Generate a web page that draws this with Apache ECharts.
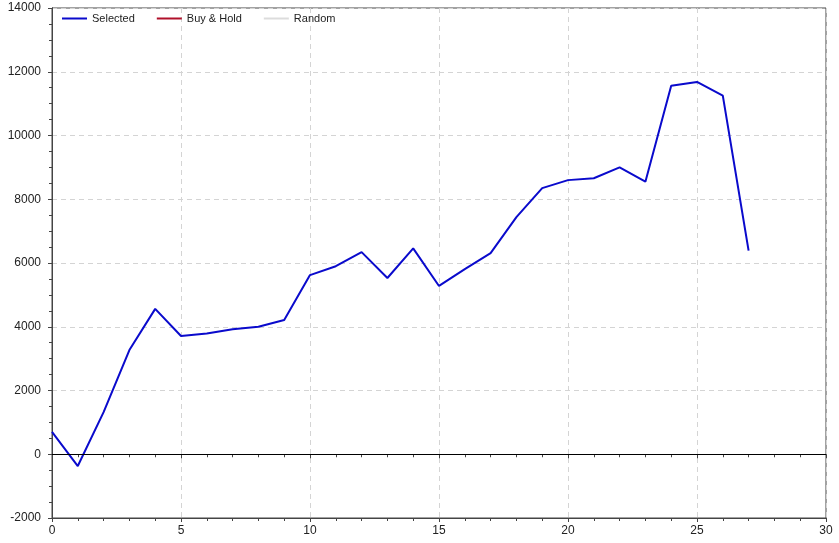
<!DOCTYPE html>
<html>
<head>
<meta charset="utf-8">
<script src="https://cdn.jsdelivr.net/npm/echarts@6/dist/echarts.min.js"></script>
<style>
  html, body { margin: 0; padding: 0; background: #fff; }
  #chart { width: 839px; height: 543px; }
</style>
</head>
<body>
<div id="chart"></div>
<script>
const periods = [0, 1, 2, 3, 4, 5, 6, 7, 8, 9, 10, 11, 12, 13, 14, 15, 16, 17, 18, 19, 20, 21, 22, 23, 24, 25, 26, 27]
const selected = [700, -370, 1320, 3270, 4560, 3710, 3790, 3920, 4000, 4210, 5620, 5900, 6340, 5530, 6460, 5280, 5810, 6310, 7440, 8350, 8600, 8660, 9000, 8550, 11560, 11680, 11250, 6390]
const buyHold = []
const random = []

const chart = echarts.init(document.getElementById('chart'))

const font = { fontFamily: 'Liberation Sans, Arial, sans-serif', fontSize: 11, color: '#222' }
const axisFont = { ...font, fontSize: 12 }
const gridLine = { show: true, lineStyle: { color: '#d4d4d4', type: [5, 4], width: 1 } }
const axisColor = '#444'

chart.setOption({
  animation: false,
  textStyle: font,
  grid: { left: 52, right: 13, top: 8, bottom: 25, show: true, borderColor: axisColor, borderWidth: 1 },
  legend: {
    left: 57, top: 8,
    icon: 'rect', itemWidth: 25, itemHeight: 2, itemGap: 22,
    textStyle: font,
    data: ['Selected', 'Buy & Hold', 'Random'],
  },
  xAxis: [
    {
      type: 'value', min: 0, max: 30, interval: 5,
      axisLine: { onZero: false, lineStyle: { color: axisColor } },
      axisTick: { length: 4, lineStyle: { color: axisColor } },
      minorTick: { show: true, splitNumber: 5, length: 3, lineStyle: { color: axisColor } },
      axisLabel: { ...axisFont, margin: 7 },
      splitLine: gridLine,
    },
    {
      type: 'value', min: 0, max: 30, interval: 5, position: 'top',
      axisLine: { show: true, lineStyle: { color: axisColor } },
      axisTick: { inside: true, length: 4, lineStyle: { color: axisColor } },
      minorTick: { show: true, splitNumber: 5, length: 3, lineStyle: { color: axisColor } },
      axisLabel: { show: false },
      splitLine: { show: false },
    },
  ],
  yAxis: [
    {
      type: 'value', min: -2000, max: 14000, interval: 2000,
      axisLine: { show: true, onZero: false, lineStyle: { color: axisColor } },
      axisTick: { show: true, length: 4, lineStyle: { color: axisColor } },
      minorTick: { show: true, splitNumber: 4, length: 3, lineStyle: { color: axisColor } },
      axisLabel: { ...axisFont, margin: 11, formatter: v => String(v) },
      splitLine: gridLine,
    },
    {
      type: 'value', min: -2000, max: 14000, interval: 2000, position: 'right',
      axisLine: { show: true, lineStyle: { color: axisColor } },
      axisTick: { show: true, inside: true, length: 4, lineStyle: { color: axisColor } },
      minorTick: { show: true, splitNumber: 4, length: 3, lineStyle: { color: axisColor } },
      axisLabel: { show: false },
      splitLine: { show: false },
    },
  ],
  series: [
    {
      name: 'Selected', type: 'line',
      data: periods.map((p, i) => [p, selected[i]]),
      showSymbol: false,
      lineStyle: { color: '#0a0acc', width: 2 },
      itemStyle: { color: '#0a0acc' },
      markLine: {
        silent: true, symbol: 'none', label: { show: false },
        lineStyle: { color: '#000', type: 'solid', width: 1 },
        data: [{ yAxis: 0 }],
      },
    },
    {
      name: 'Buy & Hold', type: 'line', data: buyHold, showSymbol: false,
      lineStyle: { color: '#b0102a', width: 2 }, itemStyle: { color: '#b0102a' },
    },
    {
      name: 'Random', type: 'line', data: random, showSymbol: false,
      lineStyle: { color: '#dcdcdc', width: 2 }, itemStyle: { color: '#dcdcdc' },
    },
  ],
})
</script>
</body>
</html>
